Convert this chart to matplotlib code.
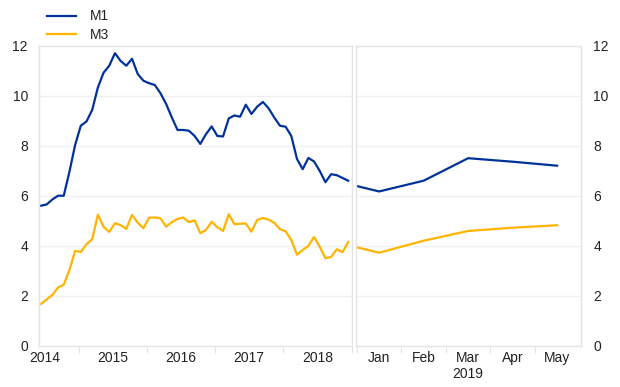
import numpy as np
import matplotlib
matplotlib.use("Agg")
import matplotlib.pyplot as plt
from matplotlib.lines import Line2D

plt.rcParams['font.family'] = ['Liberation Sans', 'DejaVu Sans']

# monthly history, Jan 2014 - Jul 2018
m1_hist = [5.6, 5.65, 5.85, 6.0, 6.0, 6.96, 8.03, 8.8, 8.97, 9.43,
           10.33, 10.92, 11.2, 11.7, 11.39, 11.2, 11.48, 10.87, 10.6, 10.5,
           10.43, 10.1, 9.67, 9.13, 8.63, 8.63, 8.6, 8.39, 8.07, 8.46,
           8.77, 8.39, 8.37, 9.09, 9.21, 9.16, 9.64, 9.27, 9.56, 9.75,
           9.5, 9.13, 8.8, 8.76, 8.39, 7.47, 7.06, 7.51, 7.37, 6.99,
           6.54, 6.86, 6.82, 6.71, 6.6]
m3_hist = [1.67, 1.85, 2.03, 2.33, 2.44, 3.03, 3.79, 3.75, 4.06, 4.26,
           5.24, 4.76, 4.55, 4.9, 4.82, 4.67, 5.23, 4.92, 4.7, 5.12,
           5.13, 5.1, 4.76, 4.94, 5.07, 5.13, 4.94, 5.02, 4.5, 4.63,
           4.96, 4.74, 4.59, 5.26, 4.86, 4.88, 4.89, 4.56, 5.03, 5.11,
           5.04, 4.92, 4.66, 4.58, 4.23, 3.64, 3.83, 3.99, 4.35, 3.96,
           3.5, 3.55, 3.86, 3.74, 4.15]
years = ["2014", "2015", "2016", "2017", "2018"]

# recent months (previous month first, then 2019)
months = ["Dec", "Jan", "Feb", "Mar", "Apr", "May"]
m1_recent = [6.6, 6.17, 6.6, 7.5, 7.36, 7.2]
m3_recent = [4.15, 3.72, 4.2, 4.59, 4.72, 4.82]

blue = "#003299"
yellow = "#ffb400"
frame = "#e4e4e4"
grid = "#f0f0f0"
txt = "#222222"

fig = plt.figure(figsize=(6.2, 3.87), dpi=100)
ax1 = fig.add_axes([0.0629, 0.1067, 0.5042, 0.7752])
ax2 = fig.add_axes([0.5742, 0.1067, 0.3624, 0.7752])

for ax in (ax1, ax2):
    ax.set_ylim(0, 12)
    ax.set_yticks(range(0, 13, 2))
    ax.grid(axis='y', color=grid, lw=1)
    ax.set_axisbelow(True)
    for s in ax.spines.values():
        s.set_color(frame)
        s.set_linewidth(1)
    ax.tick_params(axis='y', length=0, labelsize=10, colors=txt)
    ax.tick_params(axis='x', which='major', length=0, labelsize=10, colors=txt, pad=4)
    ax.tick_params(axis='x', which='minor', length=5, color=frame, width=0.8)

x1 = np.arange(len(m1_hist))
ax1.plot(x1, m1_hist, color=blue, lw=1.6)
ax1.plot(x1, m3_hist, color=yellow, lw=1.6)
ax1.set_xlim(-0.35, 54.6)
ax1.set_xticks([0.6 + 12 * i for i in range(len(years))])
ax1.set_xticklabels(years)
ax1.set_xticks([6.6 + 12 * i for i in range(4)] + [54.6], minor=True)
ax1.tick_params(axis='y', pad=8)

x2 = np.arange(len(months)) - 1
ax2.plot(x2, m1_recent, color=blue, lw=1.6)
ax2.plot(x2, m3_recent, color=yellow, lw=1.6)
ax2.set_xlim(-0.52, 4.53)
ax2.set_xticks(range(5))
ax2.set_xticklabels(months[1:])
ax2.set_xticks([-0.5, 0.5, 1.5, 2.5, 3.5], minor=True)
ax2.yaxis.tick_right()
ax2.tick_params(axis='y', pad=9)
ax2.text(2, -0.093, "2019", transform=ax2.get_xaxis_transform(),
         ha='center', va='center', fontsize=10, color=txt)

handles = [Line2D([], [], color=blue, lw=1.6), Line2D([], [], color=yellow, lw=1.6)]
fig.legend(handles, ["M1", "M3"], loc='upper left', bbox_to_anchor=(0.056, 1.008),
           frameon=False, fontsize=10, handlelength=2.1, handletextpad=1.0,
           labelspacing=0.35, labelcolor=txt)

fig.savefig("out.png", dpi=100)
